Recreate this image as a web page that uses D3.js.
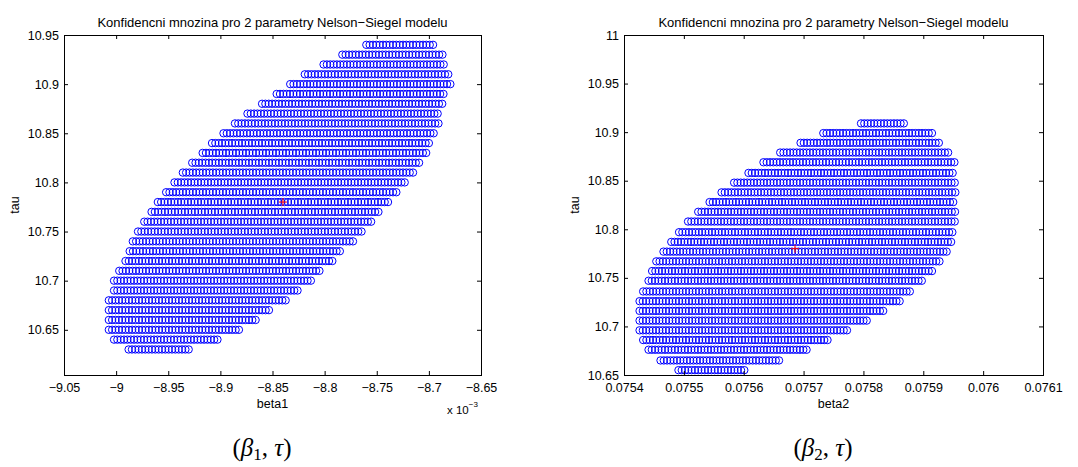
<!DOCTYPE html>
<html>
<head>
<meta charset="utf-8">
<script src="https://cdn.jsdelivr.net/npm/d3@7"></script>
<style>
  body { margin: 0; background: #fff; }
  svg { display: block; }
  text { font-family: "Liberation Sans", Arial, Helvetica, sans-serif; fill: #000; }
</style>
</head>
<body>
<svg id="chart" width="1078" height="467"></svg>
<script>
const titleText = "Konfidencni mnozina pro 2 parametry Nelson\u2212Siegel modelu";

// ---- Panel 1: (beta1 [x 1e-3], tau) confidence set on a grid ----
const beta1Ticks = [-9.05, -9, -8.95, -8.9, -8.85, -8.8, -8.75, -8.7, -8.65];
const tauTicks1 = [10.65, 10.7, 10.75, 10.8, 10.85, 10.9, 10.95];
const tauRows1 = [10.94, 10.93, 10.92, 10.91, 10.90, 10.89, 10.88, 10.87, 10.86, 10.85,
                  10.84, 10.83, 10.82, 10.81, 10.80, 10.79, 10.78, 10.77, 10.76, 10.75,
                  10.74, 10.73, 10.72, 10.71, 10.70, 10.69, 10.68, 10.67, 10.66, 10.65,
                  10.64, 10.63];
const beta1RowStart = [-8.760, -8.783, -8.801, -8.819, -8.833, -8.846, -8.860, -8.874, -8.886, -8.897,
                       -8.908, -8.917, -8.927, -8.936, -8.944, -8.952, -8.960, -8.966, -8.973, -8.979,
                       -8.984, -8.987, -8.991, -8.997, -9.002, -9.002, -9.007, -9.007, -9.007, -9.007,
                       -9.002, -8.988];
const beta1RowEnd = [-8.695, -8.686, -8.686, -8.681, -8.681, -8.686, -8.686, -8.691, -8.692, -8.695,
                     -8.699, -8.704, -8.710, -8.716, -8.723, -8.731, -8.739, -8.747, -8.756, -8.764,
                     -8.774, -8.784, -8.793, -8.804, -8.814, -8.825, -8.836, -8.852, -8.865, -8.883,
                     -8.902, -8.930];
const beta1Step = 0.0032;
const estimate1 = [-8.840, 10.78];

// ---- Panel 2: (beta2, tau) confidence set on a grid ----
const beta2Ticks = [0.0754, 0.0755, 0.0756, 0.0757, 0.0758, 0.0759, 0.076, 0.0761];
const tauTicks2 = [10.65, 10.7, 10.75, 10.8, 10.85, 10.9, 10.95, 11];
const tauRows2 = [10.909, 10.899, 10.889, 10.879, 10.869, 10.858, 10.848, 10.838, 10.828, 10.818,
                  10.808, 10.797, 10.787, 10.777, 10.767, 10.757, 10.747, 10.736, 10.726, 10.716,
                  10.706, 10.696, 10.686, 10.676, 10.665, 10.655];
const beta2RowStart = [0.075796, 0.075733, 0.075695, 0.075661, 0.075633, 0.075608, 0.075584, 0.075563, 0.075543, 0.075524,
                       0.075507, 0.075492, 0.075479, 0.075466, 0.075454, 0.075447, 0.075441, 0.075432, 0.075426, 0.075426,
                       0.075426, 0.075426, 0.075432, 0.075441, 0.075461, 0.075491];
const beta2RowEnd = [0.075869, 0.075914, 0.075927, 0.075942, 0.075951, 0.075951, 0.075951, 0.075951, 0.075951, 0.075951,
                     0.075951, 0.075951, 0.075947, 0.075939, 0.075928, 0.075914, 0.075898, 0.075879, 0.075858, 0.075834,
                     0.075806, 0.075775, 0.075738, 0.075704, 0.075658, 0.075600];
const beta2Step = 0.0000055;
const estimate2 = [0.0756857, 10.78];

const svg = d3.select("#chart");

function fmtNum(d, digits) {
  const s = (+Math.abs(d).toFixed(digits)).toString();
  return (d < 0 ? "\u2212" : "") + s;
}

function drawPanel(cfg) {
  const x = d3.scaleLinear().domain(cfg.xDomain).range([cfg.left, cfg.right]);
  const y = d3.scaleLinear().domain(cfg.yDomain).range([cfg.bottom, cfg.top]);
  const g = svg.append("g");

  // grid points inside the confidence region
  const pts = [];
  cfg.rows.forEach((t, i) => {
    const n = Math.round((cfg.ends[i] - cfg.starts[i]) / cfg.step);
    for (let k = 0; k <= n; k++) pts.push([cfg.starts[i] + k * cfg.step, t]);
  });
  g.append("g")
    .selectAll("circle")
    .data(pts)
    .join("circle")
    .attr("cx", d => x(d[0]))
    .attr("cy", d => y(d[1]))
    .attr("r", 3.7)
    .attr("fill", "none")
    .attr("stroke", "#0000ff")
    .attr("stroke-width", 1);

  // point estimate
  const ex = x(cfg.estimate[0]), ey = y(cfg.estimate[1]);
  g.append("path")
    .attr("d", `M${ex - 4},${ey}H${ex + 4}M${ex},${ey - 4}V${ey + 4}`)
    .attr("stroke", "#ff0000")
    .attr("stroke-width", 1)
    .attr("fill", "none");

  // axes with inward ticks on all four sides
  const tickFont = g => g.selectAll("text").style("font-size", "12.5px").style("font-family", '"Liberation Sans", Arial, sans-serif');
  const clean = g => { g.select(".domain").remove(); g.selectAll("line").attr("stroke", "#000"); };

  g.append("g").attr("transform", `translate(0,${cfg.bottom})`)
    .call(d3.axisBottom(x).tickValues(cfg.xTicks).tickSize(-4).tickPadding(8).tickFormat(cfg.xFormat))
    .call(clean).call(tickFont);
  g.append("g").attr("transform", `translate(0,${cfg.top})`)
    .call(d3.axisTop(x).tickValues(cfg.xTicks).tickSize(-4).tickFormat(""))
    .call(clean);
  g.append("g").attr("transform", `translate(${cfg.left},0)`)
    .call(d3.axisLeft(y).tickValues(cfg.yTicks).tickSize(-4).tickPadding(5).tickFormat(cfg.yFormat))
    .call(clean).call(tickFont);
  g.append("g").attr("transform", `translate(${cfg.right},0)`)
    .call(d3.axisRight(y).tickValues(cfg.yTicks).tickSize(-4).tickFormat(""))
    .call(clean);

  g.append("rect")
    .attr("x", cfg.left + 0.5).attr("y", cfg.top + 0.5)
    .attr("width", cfg.right - cfg.left).attr("height", cfg.bottom - cfg.top)
    .attr("fill", "none").attr("stroke", "#000").attr("stroke-width", 1);

  const cx = (cfg.left + cfg.right) / 2;
  g.append("text").attr("x", cx).attr("y", 26.5)
    .attr("text-anchor", "middle").style("font-size", "13px").text(titleText);
  g.append("text").attr("x", cx).attr("y", 408)
    .attr("text-anchor", "middle").style("font-size", "12.5px").text(cfg.xLabel);
  g.append("text")
    .attr("transform", `translate(${cfg.left - 45},${(cfg.top + cfg.bottom) / 2}) rotate(-90)`)
    .attr("text-anchor", "middle").style("font-size", "12.5px").text("tau");

  // LaTeX-style caption under the panel
  const cap = g.append("text").attr("x", cfg.captionX).attr("y", 456)
    .attr("text-anchor", "middle")
    .style("font-family", '"Liberation Serif", "DejaVu Serif", serif')
    .style("font-size", "25px");
  cap.append("tspan").text("(");
  cap.append("tspan").style("font-style", "italic").text("\u03B2");
  cap.append("tspan").attr("dy", 4).style("font-size", "17px").text(cfg.sub);
  cap.append("tspan").attr("dy", -4).text(", ");
  cap.append("tspan").style("font-style", "italic").text("\u03C4");
  cap.append("tspan").text(")");
  return g;
}

const p1 = drawPanel({
  left: 64, right: 481, top: 35, bottom: 375,
  xDomain: [-9.05, -8.65], yDomain: [10.604, 10.95],
  xTicks: beta1Ticks, yTicks: tauTicks1,
  xFormat: d => fmtNum(d, 3), yFormat: d => fmtNum(d, 3),
  rows: tauRows1, starts: beta1RowStart, ends: beta1RowEnd, step: beta1Step,
  estimate: estimate1, xLabel: "beta1", sub: "1", captionX: 262
});

// exponent note for the beta1 axis
const expo = p1.append("text").attr("x", 447).attr("y", 414).style("font-size", "11.5px");
expo.append("tspan").text("x 10");
expo.append("tspan").attr("dy", -7).style("font-size", "8px").text("\u22123");

drawPanel({
  left: 624, right: 1043, top: 35, bottom: 375,
  xDomain: [0.0754, 0.0761], yDomain: [10.65, 11],
  xTicks: beta2Ticks, yTicks: tauTicks2,
  xFormat: d => fmtNum(d, 4), yFormat: d => fmtNum(d, 3),
  rows: tauRows2, starts: beta2RowStart, ends: beta2RowEnd, step: beta2Step,
  estimate: estimate2, xLabel: "beta2", sub: "2", captionX: 823
});
</script>
</body>
</html>
